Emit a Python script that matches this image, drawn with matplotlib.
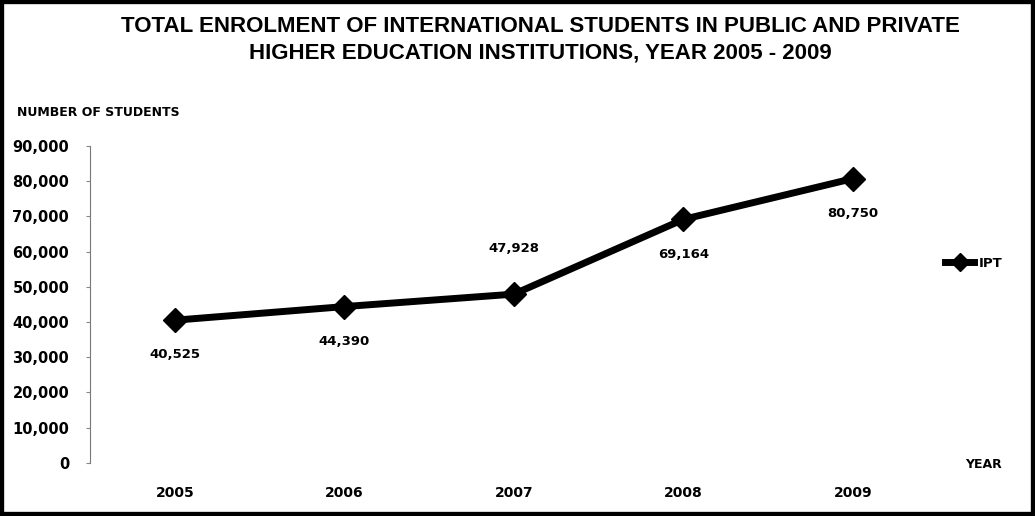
import matplotlib.pyplot as plt
from matplotlib.patches import Rectangle

# data
years = ["2005", "2006", "2007", "2008", "2009"]
students = [40525, 44390, 47928, 69164, 80750]
label_side = ["below", "below", "above", "below", "below"]
y_ticks = [0, 10000, 20000, 30000, 40000, 50000, 60000, 70000, 80000, 90000]

plt.rcParams['font.family'] = ['DejaVu Sans']

fig = plt.figure(figsize=(10.35, 5.16), dpi=100)
ax = fig.add_axes([0.087, 0.103, 0.819, 0.614])

x = range(len(years))
ax.plot(x, students, c="black", lw=5, marker="D", ms=12, label="IPT", zorder=3)

for i, v in enumerate(students):
    if label_side[i] == "above":
        ax.annotate(f"{v:,}", (i, v), xytext=(0, 33), textcoords="offset points",
                    ha="center", va="center", fontsize=9.5, fontweight="bold")
    else:
        ax.annotate(f"{v:,}", (i, v), xytext=(0, -25), textcoords="offset points",
                    ha="center", va="center", fontsize=9.5, fontweight="bold")

ax.set_xlim(-0.5, len(years) - 0.5)
ax.set_ylim(0, 90000)
ax.set_yticks(y_ticks)
ax.set_yticklabels([f"{t:,}" for t in y_ticks], fontsize=10.5, fontweight="bold")
ax.set_xticks(list(x))
ax.set_xticklabels(years, fontsize=10, fontweight="bold")
ax.tick_params(axis="x", length=0, pad=17)
ax.tick_params(axis="y", length=3, color="#888888", pad=12)

for s in ["top", "right", "bottom"]:
    ax.spines[s].set_visible(False)
ax.spines["left"].set_color("#777777")
ax.spines["left"].set_linewidth(0.8)

fig.text(0.522, 0.948, "TOTAL ENROLMENT OF INTERNATIONAL STUDENTS IN PUBLIC AND PRIVATE",
         ha="center", va="center", fontsize=16, fontweight="bold", family="Liberation Sans")
fig.text(0.522, 0.898, "HIGHER EDUCATION INSTITUTIONS, YEAR 2005 - 2009",
         ha="center", va="center", fontsize=16, fontweight="bold", family="Liberation Sans")
fig.text(0.016, 0.782, "NUMBER OF STUDENTS", ha="left", va="center",
         fontsize=9, fontweight="bold")
fig.text(0.932, 0.099, "YEAR", ha="left", va="center", fontsize=9, fontweight="bold")

ax.legend(loc="center left", bbox_to_anchor=(0.995, 0.63), frameon=False,
          prop={"weight": "bold", "size": 9.5}, handlelength=2.2, handletextpad=0.3,
          markerscale=0.8)

fig.patches.append(Rectangle((0, 0), 1, 1, transform=fig.transFigure, fill=False,
                             ec="black", lw=6))

plt.savefig("out.png")
